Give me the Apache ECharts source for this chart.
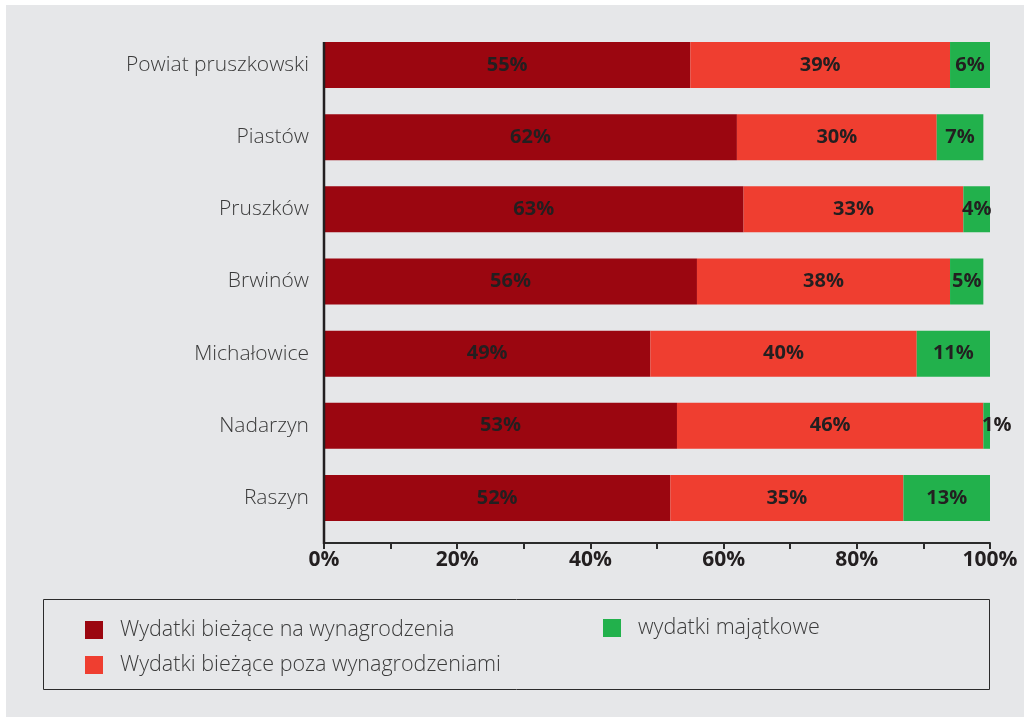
<!DOCTYPE html>
<html>
<head>
<meta charset="utf-8">
<script src="https://cdn.jsdelivr.net/npm/echarts@6/dist/echarts.min.js"></script>
<style>
  html, body { margin: 0; padding: 0; background: #ffffff; }
  #chart { position: absolute; left: 6px; top: 5px; width: 1018px; height: 712px; background: #e6e7e9; }
</style>
</head>
<body>
<div id="chart"></div>
<script>
// Struktura wydatków gmin (udział procentowy)
const categories = ['Powiat pruszkowski', 'Piastów', 'Pruszków', 'Brwinów', 'Michałowice', 'Nadarzyn', 'Raszyn'];
const seriesNames = ['Wydatki bieżące na wynagrodzenia', 'Wydatki bieżące poza wynagrodzeniami', 'wydatki majątkowe'];
const wynagrodzenia = [55, 62, 63, 56, 49, 53, 52];
const pozaWynagrodzeniami = [39, 30, 33, 38, 40, 46, 35];
const majatkowe = [6, 7, 4, 5, 11, 1, 13];
const xTicks = [0, 20, 40, 60, 80, 100];

const colors = ['#9b0610', '#ef3e30', '#22b14c'];
const FONT = '"Open Sans", "DejaVu Sans", sans-serif';
const TEXT = '#231f20';

const chart = echarts.init(document.getElementById('chart'), null, { renderer: 'canvas' });

const BAR_W = 46;
const GRID_H = 505;
const AXIS_OFFSET = 9;

function makeSeries(name, values, color) {
  return {
    name: name,
    type: 'bar',
    stack: 'total',
    // very thin segments get their label nudged to the right
    data: values.map(function (v) {
      return v < 3 ? { value: v, label: { offset: [10, 0] } } : v;
    }),
    barWidth: BAR_W,
    itemStyle: { color: color },
    label: {
      show: true,
      position: 'inside',
      formatter: '{c}%',
      color: TEXT,
      fontFamily: FONT,
      fontWeight: 'bold',
      fontSize: 20,
      overflow: 'none'
    },
    emphasis: { disabled: true }
  };
}

const legendText = {
  color: '#3b3b3b',
  fontFamily: FONT,
  fontWeight: 300,
  fontSize: 21.5,
  lineHeight: 20,
  padding: [0, 0, 0, 12]
};

const option = {
  animation: false,
  grid: { left: 318, right: 34, top: 24, height: GRID_H },
  xAxis: {
    type: 'value',
    min: 0,
    max: 100,
    interval: 10,
    offset: AXIS_OFFSET,
    axisLine: { show: true, lineStyle: { color: '#2b2b2b', width: 2 } },
    axisTick: { show: true, length: 6, lineStyle: { color: '#2b2b2b', width: 2 } },
    splitLine: { show: false },
    axisLabel: {
      color: TEXT,
      fontFamily: FONT,
      fontWeight: 'bold',
      fontSize: 21,
      margin: 7,
      formatter: function (v) { return xTicks.indexOf(v) >= 0 ? v + '%' : ''; }
    }
  },
  yAxis: {
    type: 'category',
    inverse: true,
    data: categories,
    axisLine: { show: false },
    axisTick: { show: false },
    axisLabel: {
      color: '#3b3b3b',
      fontFamily: FONT,
      fontWeight: 300,
      fontSize: 21,
      margin: 15
    }
  },
  legend: [
    {
      data: seriesNames.slice(0, 2),
      orient: 'vertical',
      left: 74,
      top: 609,
      itemWidth: 18,
      itemHeight: 18,
      itemGap: 13,
      icon: 'rect',
      selectedMode: false,
      textStyle: legendText
    },
    {
      data: seriesNames.slice(2),
      orient: 'vertical',
      left: 592,
      top: 607,
      itemWidth: 18,
      itemHeight: 18,
      icon: 'rect',
      selectedMode: false,
      textStyle: legendText
    }
  ],
  series: [
    makeSeries(seriesNames[0], wynagrodzenia, colors[0]),
    makeSeries(seriesNames[1], pozaWynagrodzeniami, colors[1]),
    makeSeries(seriesNames[2], majatkowe, colors[2])
  ]
};

chart.setOption(option);

// Vertical axis line from the top of the first bar down to the value axis,
// and the legend frame.
const x0 = chart.convertToPixel({ gridIndex: 0 }, [0, 0])[0];
const yTop = chart.convertToPixel({ yAxisIndex: 0 }, categories[0]) - BAR_W / 2;
const yAxisBottom = chart.convertToPixel({ yAxisIndex: 0 }, categories[categories.length - 1])
  + GRID_H / categories.length / 2 + AXIS_OFFSET;
chart.setOption({
  graphic: [
    {
      type: 'line',
      shape: { x1: x0, y1: yTop, x2: x0, y2: yAxisBottom + 1 },
      style: { stroke: '#231f20', lineWidth: 2.5 },
      z: 10
    },
    {
      type: 'rect',
      shape: { x: 37.5, y: 594.5, width: 946, height: 90 },
      style: { fill: 'none', stroke: '#2b2b2b', lineWidth: 1 },
      z: 0
    }
  ]
});
</script>
</body>
</html>
